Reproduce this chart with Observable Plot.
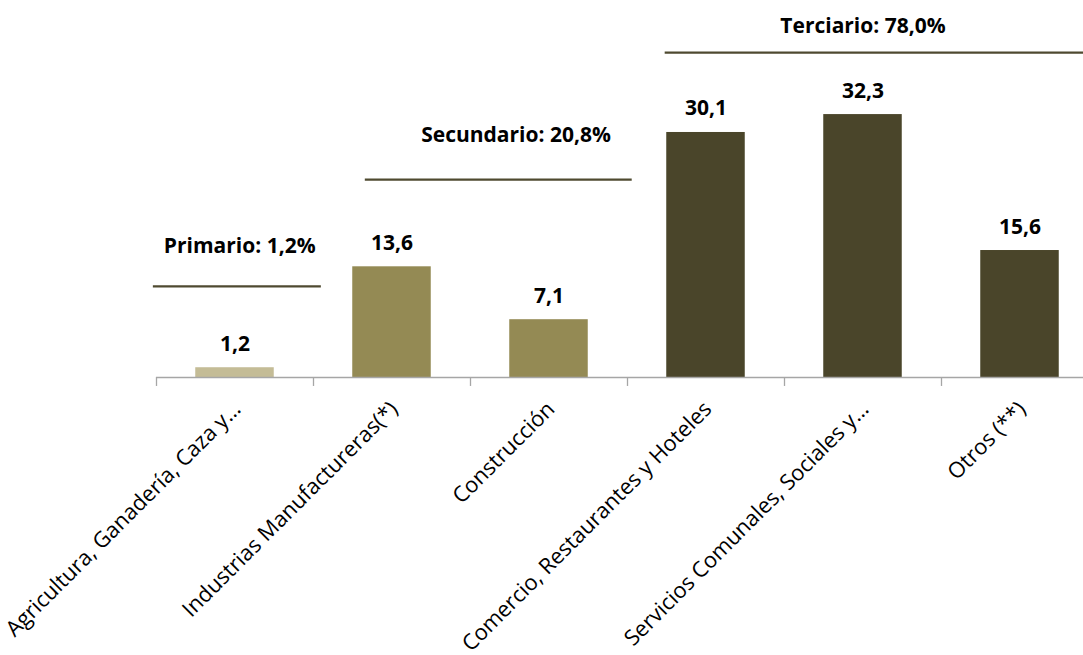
<!DOCTYPE html>
<html><head><meta charset="utf-8">
<script src="https://cdn.jsdelivr.net/npm/d3@7"></script>
<script src="https://cdn.jsdelivr.net/npm/@observablehq/plot@0.6"></script>
<style>body{margin:0;background:#fff}</style>
</head><body><div id="chart"></div>
<script>
const categories = ["Agricultura, Ganadería, Caza y…","Industrias Manufactureras(*)","Construcción","Comercio, Restaurantes y Hoteles","Servicios Comunales, Sociales y…","Otros (**)"];
const values = [1.2, 13.6, 7.1, 30.1, 32.3, 15.6];
const sectorOf = ["Primario","Secundario","Secundario","Terciario","Terciario","Terciario"];
const groupNames = ["Primario","Secundario","Terciario"];
const groupLabels = ["Primario: 1,2%","Secundario: 20,8%","Terciario: 78,0%"];
const groupLineY = [11.2, 24.3, 39.9];
const groupLineFrom = [-0.52, 0.83, 2.74];
const groupLineTo = [0.55, 2.53, 5.5];
const groupLabelX = [0.03, 1.79, 4.0];
const groupLabelY = [16.1, 29.7, 43.2];

const fmt = v => v.toFixed(1).replace(".", ",");
const bars = categories.map((c,i)=>({c, i, v: values[i], s: sectorOf[i]}));
const groups = groupNames.map((g,k)=>({g, label: groupLabels[k], y: groupLineY[k], x1: groupLineFrom[k], x2: groupLineTo[k], lx: groupLabelX[k], ly: groupLabelY[k]}));
const bounds = d3.range(categories.length + 1).map(i => i - 0.5);
const font = "Open Sans, sans-serif";

const chart = Plot.plot({
  width: 1083, height: 655,
  style: {fontFamily: font, background: "#fff"},
  x: {type: "linear", domain: [-0.5, 5.5], range: [156, 1098], axis: null},
  y: {type: "linear", domain: [0, 40], range: [377, 377 - 40*8.14], axis: null},
  color: {domain: groupNames, range: ["#c4bc96", "#948a54", "#4a452a"]},
  marks: [
    Plot.rectY(bars, {x1: d => d.i - 0.25, x2: d => d.i + 0.25, y1: 0, y2: "v", fill: "s"}),
    Plot.ruleY([0], {x1: -0.5, x2: 5.5, stroke: "#a6a6a6", strokeWidth: 1.3}),
    Plot.ruleX(bounds, {x: d => d, y1: 0, y2: -1.1, stroke: "#a6a6a6", strokeWidth: 1.3}),
    Plot.text(bars, {x: "i", y: "v", text: d => fmt(d.v), dy: -17, lineAnchor: "bottom", fontWeight: "bold", fontSize: 21, fill: "#000"}),
    Plot.text(bars, {x: "i", y: 0, text: "c", rotate: -45, textAnchor: "end", lineAnchor: "middle", dx: 2, dy: 28, fontSize: 21.8, fill: "#000"}),
    Plot.ruleY(groups, {y: "y", x1: "x1", x2: "x2", stroke: "#4f4a30", strokeWidth: 2.2}),
    Plot.text(groups, {x: "lx", y: "ly", text: "label", fontWeight: "bold", fontSize: 21, fill: "#000"})
  ]
});
document.getElementById("chart").append(chart);
</script></body></html>
